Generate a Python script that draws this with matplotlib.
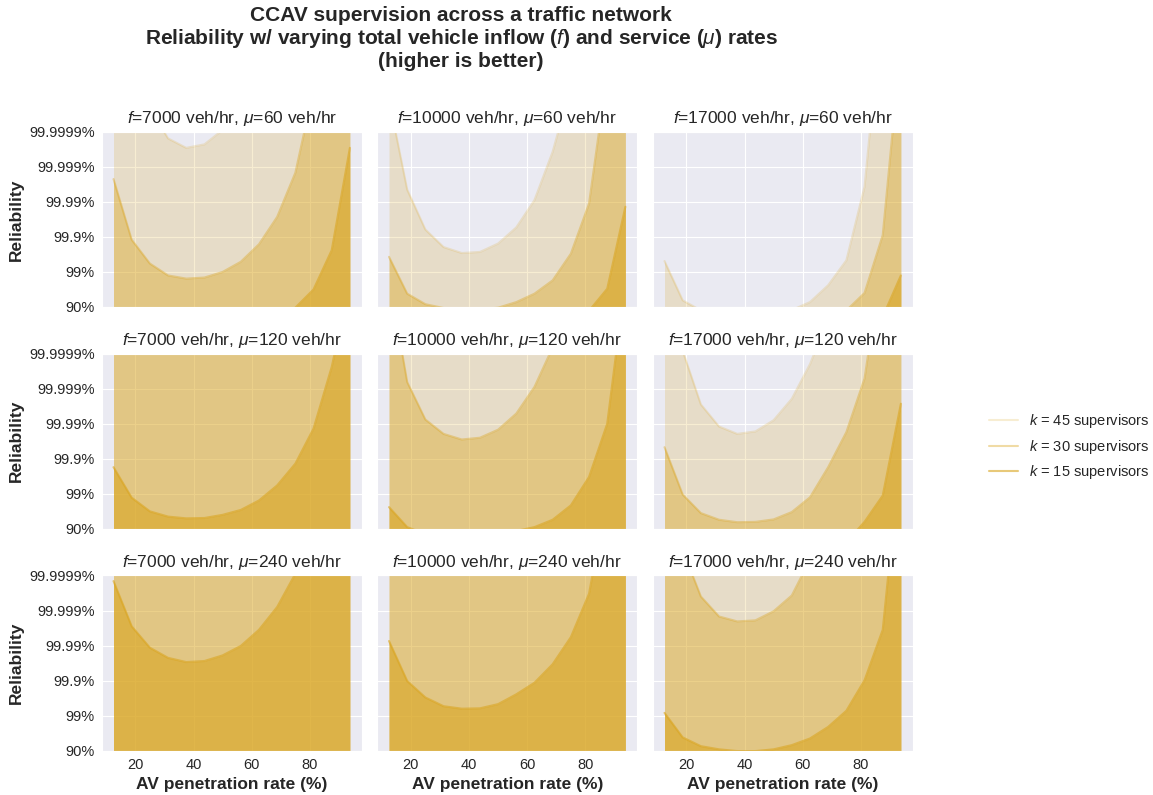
import matplotlib
matplotlib.use("Agg")
import matplotlib.pyplot as plt
import seaborn as sns

# ---------------- data ----------------
# AV penetration rate (%)
penetration = [12.5, 18.75, 25, 31.25, 37.5, 43.75, 50, 56.25, 62.5, 68.75, 75, 81.25, 87.5, 93.75]
f_values = [7000, 10000, 17000]        # total vehicle inflow (veh/hr), columns
mu_values = [60, 120, 240]             # service rate (veh/hr), rows
k_values = [45, 30, 15]                # supervisors

# reliability expressed as number of nines: -log10(1 - R)
# mu = 60
r_7000_60_k45 = [9.5, 7.9, 6.67, 5.81, 5.54, 5.64, 6.05, 6.9, 8.0, 9.2, 10.5, 12.0, 13.5, 15.0]
r_7000_60_k30 = [4.65, 2.92, 2.24, 1.90, 1.81, 1.84, 2.00, 2.29, 2.79, 3.57, 4.83, 7.2, 9.0, 11.0]
r_7000_60_k15 = [0.5, 0.3, 0.2, 0.15, 0.12, 0.13, 0.17, 0.25, 0.4, 0.65, 0.98, 1.50, 2.62, 5.54]

r_10000_60_k45 = [6.93, 4.35, 3.21, 2.71, 2.54, 2.57, 2.81, 3.27, 4.05, 5.43, 7.3, 9.0, 11.0, 13.0]
r_10000_60_k30 = [2.43, 1.38, 1.08, 0.97, 0.92, 0.93, 0.98, 1.14, 1.38, 1.76, 2.52, 3.95, 7.7, 9.0]
r_10000_60_k15 = [0.3, 0.2, 0.1, 0.1, 0.1, 0.1, 0.1, 0.15, 0.25, 0.45, 0.7, 0.89, 1.52, 3.86]

r_17000_60_k45 = [2.31, 1.19, 0.9, 0.7, 0.6, 0.62, 0.72, 0.91, 1.14, 1.62, 2.33, 4.43, 9.8, 12.0]
r_17000_60_k30 = [0.2, 0.1, 0.1, 0.1, 0.1, 0.1, 0.1, 0.15, 0.3, 0.55, 0.9, 1.40, 3.05, 8.5]
r_17000_60_k15 = [0.1, 0.1, 0.1, 0.1, 0.1, 0.1, 0.1, 0.1, 0.1, 0.15, 0.25, 0.4, 0.72, 1.90]

# mu = 120
r_7000_120_k45 = [12.0, 11.0, 10.5, 10.0, 9.8, 9.8, 10.0, 10.5, 11.0, 12.0, 13.0, 14.0, 15.0, 16.0]
r_7000_120_k30 = [8.5, 7.5, 7.0, 6.7, 6.6, 6.6, 6.7, 7.0, 7.5, 8.2, 9.0, 10.0, 11.5, 13.0]
r_7000_120_k15 = [2.76, 1.89, 1.50, 1.35, 1.30, 1.31, 1.40, 1.54, 1.81, 2.24, 2.86, 3.86, 5.62, 8.0]

r_10000_120_k45 = [10.0, 8.5, 7.5, 7.0, 6.8, 6.8, 7.0, 7.5, 8.3, 9.5, 11.0, 12.5, 14.0, 15.5]
r_10000_120_k30 = [8.2, 5.19, 4.12, 3.71, 3.55, 3.60, 3.83, 4.29, 5.05, 6.18, 7.5, 9.0, 10.5, 12.0]
r_10000_120_k15 = [1.62, 1.05, 0.85, 0.75, 0.7, 0.72, 0.8, 0.94, 1.05, 1.26, 1.67, 2.48, 4.0, 8.1]

r_17000_120_k45 = [7.5, 6.08, 4.55, 3.92, 3.71, 3.78, 4.10, 4.71, 5.7, 7.0, 9.0, 11.0, 13.0, 15.0]
r_17000_120_k30 = [3.33, 1.98, 1.45, 1.26, 1.19, 1.20, 1.27, 1.48, 1.90, 2.76, 3.76, 5.29, 8.8, 11.0]
r_17000_120_k15 = [0.3, 0.2, 0.15, 0.1, 0.1, 0.1, 0.12, 0.15, 0.2, 0.35, 0.62, 1.2, 1.95, 4.57]

# mu = 240
r_7000_240_k45 = [14.0, 13.0, 12.5, 12.0, 12.0, 12.0, 12.2, 12.6, 13.2, 14.0, 15.0, 16.0, 17.0, 18.0]
r_7000_240_k30 = [10.0, 9.0, 8.5, 8.2, 8.0, 8.0, 8.2, 8.6, 9.2, 10.0, 11.0, 12.0, 13.0, 14.0]
r_7000_240_k15 = [5.84, 4.55, 3.94, 3.65, 3.53, 3.56, 3.72, 3.99, 4.45, 5.10, 6.05, 7.2, 8.5, 10.0]

r_10000_240_k45 = [13.0, 12.0, 11.0, 10.5, 10.3, 10.3, 10.5, 11.0, 11.5, 12.5, 13.5, 14.5, 15.5, 16.5]
r_10000_240_k30 = [9.0, 8.0, 7.5, 7.2, 7.0, 7.0, 7.2, 7.5, 8.0, 8.7, 9.5, 10.5, 11.5, 12.5]
r_10000_240_k15 = [4.13, 2.99, 2.52, 2.27, 2.20, 2.21, 2.33, 2.61, 2.94, 3.47, 4.24, 5.48, 8.3, 10.0]

r_17000_240_k45 = [11.0, 10.0, 9.0, 8.6, 8.4, 8.4, 8.6, 9.0, 9.7, 10.5, 11.5, 12.5, 13.5, 14.5]
r_17000_240_k30 = [8.0, 6.73, 5.40, 4.83, 4.69, 4.72, 4.98, 5.43, 6.45, 7.5, 8.7, 10.0, 11.5, 13.0]
r_17000_240_k15 = [2.08, 1.38, 1.13, 1.04, 0.99, 0.99, 1.04, 1.16, 1.35, 1.68, 2.14, 3.01, 4.45, 9.6]

y_ticks = [1, 2, 3, 4, 5, 6]
y_ticklabels = ["90%", "99%", "99.9%", "99.99%", "99.999%", "99.9999%"]

series = {
    (60, 7000): [r_7000_60_k45, r_7000_60_k30, r_7000_60_k15],
    (60, 10000): [r_10000_60_k45, r_10000_60_k30, r_10000_60_k15],
    (60, 17000): [r_17000_60_k45, r_17000_60_k30, r_17000_60_k15],
    (120, 7000): [r_7000_120_k45, r_7000_120_k30, r_7000_120_k15],
    (120, 10000): [r_10000_120_k45, r_10000_120_k30, r_10000_120_k15],
    (120, 17000): [r_17000_120_k45, r_17000_120_k30, r_17000_120_k15],
    (240, 7000): [r_7000_240_k45, r_7000_240_k30, r_7000_240_k15],
    (240, 10000): [r_10000_240_k45, r_10000_240_k30, r_10000_240_k15],
    (240, 17000): [r_17000_240_k45, r_17000_240_k30, r_17000_240_k15],
}

# ---------------- style ----------------
sns.set_style("darkgrid")
plt.rcParams["font.family"] = ["Liberation Sans", "DejaVu Sans"]
plt.rcParams["mathtext.fontset"] = "custom"
plt.rcParams["mathtext.it"] = "Liberation Sans:italic"
plt.rcParams["mathtext.rm"] = "Liberation Sans"
plt.rcParams["mathtext.bf"] = "Liberation Sans:bold"
text_color = "#262626"

base_color = "#DAA520"
alphas = [0.2, 0.4, 0.6]

fig, axes = plt.subplots(3, 3, figsize=(11.53, 7.95), dpi=100, sharex=True, sharey=True)
fig.subplots_adjust(left=0.0882, right=0.7916, top=0.8343, bottom=0.0557,
                    wspace=0.0596, hspace=0.266)

handles = []
for r, mu in enumerate(mu_values):
    for c, f in enumerate(f_values):
        ax = axes[r, c]
        for k, vals, a in zip(k_values, series[(mu, f)], alphas):
            ln, = ax.plot(penetration, vals, color=base_color, alpha=a, lw=1.5,
                          label=f"$k$ = {k} supervisors")
            ax.fill_between(penetration, vals, 0, color=base_color, alpha=a, lw=0)
            if r == 0 and c == 0:
                handles.append(ln)
        ax.set_ylim(1, 6)
        ax.set_yticks(y_ticks)
        ax.set_yticklabels(y_ticklabels)
        ax.set_title(f"$f$={f} veh/hr, $\\mu$={mu} veh/hr", fontsize=12.5,
                     color=text_color)
        ax.tick_params(labelsize=10.5, colors=text_color, length=0, pad=5)
        if c == 0:
            ax.set_ylabel("Reliability", fontsize=12.5, fontweight="bold",
                          color=text_color)
        if r == 2:
            ax.set_xlabel("AV penetration rate (%)", fontsize=12.5,
                          fontweight="bold", color=text_color)

axes[0, 0].set_xticks([20, 40, 60, 80])

fig.suptitle("CCAV supervision across a traffic network\n"
             "Reliability w/ varying total vehicle inflow ($f$) and service ($\\mu$) rates\n"
             "(higher is better)",
             x=0.40, y=0.992, va="top", fontsize=15, fontweight="bold",
             color=text_color, linespacing=1.1)

leg = fig.legend(handles=handles, loc="center left", bbox_to_anchor=(0.846, 0.438),
                 frameon=False, fontsize=10.5)
for t in leg.get_texts():
    t.set_color(text_color)

fig.savefig("out.png", dpi=100, facecolor="white")
